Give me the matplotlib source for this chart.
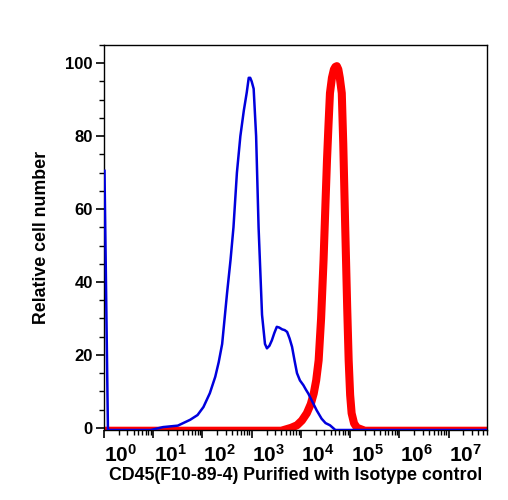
import numpy as np
import matplotlib
matplotlib.use("Agg")
import matplotlib.pyplot as plt
import matplotlib.transforms as mtransforms
from matplotlib.ticker import FixedLocator, MultipleLocator

plt.rcParams['font.family'] = ['Liberation Sans', 'DejaVu Sans']
plt.rcParams['font.weight'] = 'bold'
plt.rcParams['mathtext.fontset'] = 'custom'
plt.rcParams['mathtext.rm'] = 'Liberation Sans:bold'
plt.rcParams['mathtext.bf'] = 'Liberation Sans:bold'
plt.rcParams['mathtext.it'] = 'Liberation Sans:bold'

# Isotype control (blue), log10 fluorescence vs relative count
blue_log = [0.01, 0.08, 0.95, 1.2, 1.5, 1.75, 1.9, 2.02, 2.15, 2.26, 2.33, 2.40, 2.50, 2.57,
            2.63, 2.70, 2.77, 2.84, 2.90, 2.94, 2.97, 3.00, 3.04, 3.09, 3.14, 3.21, 3.27,
            3.31, 3.36, 3.41, 3.46, 3.51, 3.56, 3.62, 3.67, 3.72, 3.77, 3.82, 3.87, 3.92,
            3.98, 4.05, 4.10, 4.15, 4.22, 4.32, 4.42, 4.50, 4.59, 4.70, 7.8]
blue_val = [70.5, -0.6, -0.6, 0.2, 0.6, 2.2, 3.5, 5.7, 9.5, 14, 18, 23, 37, 46,
            55, 70, 80, 87, 92, 96, 96, 95, 93, 80, 55, 31, 23,
            21.8, 22.5, 24, 26, 27.7, 27.5, 27.0, 26.8, 26.3, 24.5, 22.2, 18.5, 15,
            13, 11.7, 10.5, 9.4, 7.5, 4.8, 2.5, 1.3, 0.7, -0.6, -0.6]

# CD45 stained (red)
red_log = [0.0, 3.6, 3.8, 3.92, 4.02, 4.12, 4.20, 4.26, 4.31, 4.36, 4.41, 4.46, 4.50, 4.53,
           4.56, 4.59, 4.63, 4.67, 4.70, 4.73, 4.76, 4.79, 4.83, 4.86, 4.90, 4.94, 4.97,
           5.00, 5.03, 5.08, 5.14, 5.3, 7.8]
red_val = [-0.8, -0.8, 0.0, 0.7, 2.0, 4.0, 6.5, 9.4, 13, 18.5, 30, 46, 62, 73.5,
           83, 91.8, 96, 98.3, 99.0, 99.2, 98.3, 96, 91.8, 78, 55, 33, 18.5,
           9, 4, 1.2, 0.0, -0.8, -0.8]

x_tick_exps = [0, 1, 2, 3, 4, 5, 6, 7]
y_ticks = [0, 20, 40, 60, 80, 100]

xlabel = "CD45(F10-89-4) Purified with Isotype control"
ylabel = "Relative cell number"

fig = plt.figure(figsize=(5.08, 5.0), dpi=100)
ax = fig.add_axes([104/508, 1-430/500, (487-104)/508, (430-45)/500])

ax.plot(10**np.array(red_log), red_val, color='#ff0000', lw=5.8, zorder=2,
        solid_joinstyle='round')
ax.plot(10**np.array(blue_log), blue_val, color='#0000dd', lw=1.8, zorder=3)

ax.set_xscale('log')
ax.set_xlim(10**0, 10**7.78)
ax.set_ylim(-0.6, 105)

ax.xaxis.set_major_locator(FixedLocator([10.0**e for e in x_tick_exps]))
minors = [m * 10.0**e for e in range(0, 8) for m in range(2, 10)]
ax.xaxis.set_minor_locator(FixedLocator(minors))
ax.set_xticklabels([r'$10^{%d}$' % e for e in x_tick_exps])
ax.yaxis.set_major_locator(FixedLocator(y_ticks))
ax.yaxis.set_minor_locator(MultipleLocator(5))
ax.set_yticklabels([str(v) for v in y_ticks])

ax.tick_params(axis='both', which='major', direction='out', length=6, width=1.2, color='black')
ax.tick_params(axis='both', which='minor', direction='out', length=3.5, width=1.0, color='black')
ax.tick_params(axis='x', which='major', labelsize=15, pad=4)
ax.tick_params(axis='y', which='major', labelsize=12, pad=2)

offset = mtransforms.ScaledTranslation(17/100, 0, fig.dpi_scale_trans)
for lab in ax.get_xticklabels():
    lab.set_transform(lab.get_transform() + offset)

for s in ax.spines.values():
    s.set_linewidth(1.0)
    s.set_color('black')

ax.set_xlabel(xlabel, fontsize=12.8, fontweight='bold', labelpad=1)
ax.set_ylabel(ylabel, fontsize=12.8, fontweight='bold', labelpad=11)

fig.savefig('out.png', dpi=100)
